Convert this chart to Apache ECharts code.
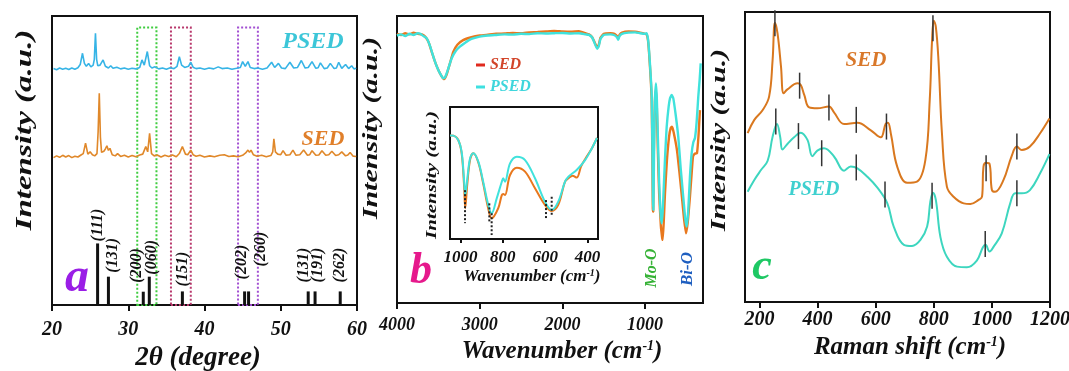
<!DOCTYPE html>
<html>
<head>
<meta charset="utf-8">
<style>
  html, body { margin: 0; padding: 0; background: #fff; }
  #chart { width: 1069px; height: 371px; }
</style>
<script src="https://cdn.jsdelivr.net/npm/echarts@6/dist/echarts.min.js"></script>
</head>
<body>
<div id="chart"></div>
<script>
// ---------- (a) XRD patterns, 2θ in degrees vs intensity (a.u.) ----------
const xrdPsed = [
  [20.2, 81.8], [20.6, 81.4], [21.0, 82.0], [21.4, 81.6], [21.8, 81.9], [22.2, 81.5], [22.6, 82.0], [23.0, 81.6],
  [23.4, 82.1], [23.7, 83.2], [24.0, 87.1], [24.25, 83.6], [24.5, 82.6], [24.8, 83.6], [25.1, 82.4], [25.4, 83.0],
  [25.55, 85.0], [25.7, 94.0], [25.85, 85.0], [26.0, 82.8], [26.3, 83.0], [26.7, 84.8], [27.0, 82.6], [27.4, 82.0],
  [27.7, 82.8], [28.0, 81.9], [28.5, 82.3], [29.0, 81.7], [29.5, 82.0], [30.0, 81.6], [30.5, 81.9], [31.0, 81.7],
  [31.5, 82.2], [31.8, 84.8], [32.1, 83.0], [32.5, 87.7], [32.8, 82.8], [33.1, 82.0], [33.5, 82.4], [34.0, 81.7],
  [34.5, 82.0], [35.0, 81.6], [35.5, 82.1], [36.0, 81.8], [36.4, 82.6], [36.7, 85.9], [37.0, 83.0], [37.4, 82.2],
  [37.9, 82.6], [38.2, 84.0], [38.5, 82.3], [38.9, 81.8], [39.4, 82.0], [40.0, 81.6], [40.6, 82.0], [41.2, 81.7],
  [41.8, 82.4], [42.3, 81.8], [43.0, 82.0], [43.6, 81.6], [44.2, 81.9], [44.7, 82.2], [45.0, 84.2], [45.35, 82.6],
  [45.7, 84.2], [46.0, 82.2], [46.5, 81.8], [47.0, 82.0], [47.6, 81.6], [48.2, 82.0], [48.8, 84.0], [49.2, 82.2],
  [49.7, 83.6], [50.1, 82.0], [50.6, 81.8], [51.2, 84.0], [51.7, 82.0], [52.2, 82.2], [52.7, 84.6], [53.2, 82.0],
  [53.6, 82.2], [54.1, 84.2], [54.6, 81.9], [54.9, 82.1], [55.2, 83.8], [55.7, 81.8], [56.1, 82.0], [56.5, 83.6],
  [57.0, 81.8], [57.3, 82.0], [57.6, 84.0], [58.0, 81.9], [58.5, 83.2], [58.9, 81.8], [59.3, 82.8], [59.6, 81.7],
  [59.9, 81.9]
];
const xrdSed = [
  [20.2, 51.0], [20.6, 51.6], [21.0, 51.1], [21.4, 51.8], [21.8, 51.2], [22.2, 51.7], [22.6, 51.0], [23.0, 51.5],
  [23.4, 51.2], [23.8, 51.9], [24.1, 52.4], [24.4, 56.0], [24.7, 52.2], [25.0, 53.0], [25.3, 52.0], [25.6, 51.6],
  [25.9, 52.4], [26.05, 60.0], [26.2, 73.3], [26.35, 58.0], [26.5, 52.8], [26.8, 53.2], [27.0, 54.0], [27.2, 55.1],
  [27.4, 53.5], [27.6, 54.2], [27.9, 52.0], [28.3, 51.6], [28.6, 52.4], [29.0, 51.4], [29.5, 51.8], [30.0, 51.2],
  [30.5, 51.7], [31.0, 51.3], [31.5, 51.9], [31.9, 52.2], [32.3, 54.8], [32.55, 53.0], [32.8, 59.4], [33.05, 52.4],
  [33.4, 51.6], [33.8, 51.9], [34.3, 51.2], [34.8, 51.8], [35.3, 51.4], [35.8, 51.9], [36.3, 51.3], [36.7, 52.4],
  [37.1, 54.8], [37.5, 52.2], [37.8, 52.0], [38.2, 53.6], [38.5, 52.0], [38.9, 51.5], [39.4, 51.8], [40.0, 51.2],
  [40.7, 51.6], [41.3, 51.3], [42.0, 51.8], [42.6, 52.0], [43.2, 51.4], [43.8, 51.6], [44.4, 51.3], [45.0, 51.8],
  [45.4, 52.6], [45.7, 53.6], [45.9, 52.8], [46.1, 53.6], [46.4, 52.0], [46.9, 51.5], [47.5, 51.8], [48.1, 51.3],
  [48.7, 51.7], [48.95, 53.0], [49.1, 57.5], [49.3, 53.0], [49.6, 52.2], [50.0, 52.0], [50.3, 53.4], [50.7, 51.8],
  [51.2, 52.0], [51.6, 53.6], [52.0, 51.8], [52.5, 52.0], [53.0, 53.6], [53.5, 51.8], [53.8, 52.0], [54.1, 53.4],
  [54.6, 51.8], [55.0, 51.9], [55.4, 53.4], [55.9, 51.8], [56.3, 52.0], [56.7, 53.2], [57.2, 51.7], [57.6, 52.0],
  [58.0, 53.0], [58.5, 51.6], [58.8, 51.9], [59.1, 52.8], [59.5, 51.5], [59.9, 51.4]
];
// reference pattern: peak positions, relative heights and Miller indices
const refPos = [25.98, 27.4, 31.97, 32.76, 37.1, 45.26, 45.78, 53.6, 54.5, 57.8];
const refHeight = [21.3, 9.8, 4.6, 9.8, 4.7, 4.7, 4.7, 4.7, 4.7, 4.7];
const refHkl = ['(111)', '(131)', '(200)', '(060)', '(151)', '(202)', '(260)', '(131)', '(191)', '(262)'];
// highlighted 2θ windows and their common upper edge
const windowRanges = [[31.18, 33.7], [35.6, 38.2], [44.4, 47.0]];
const windowTop = 96;

// ---------- (b) FT-IR spectra, wavenumber (cm-1) vs transmittance (a.u.) ----------
const irSed = [
  [4000, 93.8], [3950, 93.4], [3900, 94.0], [3850, 93.6], [3800, 94.2], [3750, 93.8], [3700, 93.6], [3660, 92.8],
  [3620, 91.0], [3580, 87.5], [3540, 84.0], [3500, 81.2], [3460, 79.0], [3430, 78.0], [3400, 79.6], [3360, 83.5],
  [3320, 87.5], [3270, 90.0], [3200, 91.6], [3100, 92.6], [3000, 93.2], [2900, 93.5], [2800, 93.8], [2700, 93.9],
  [2600, 94.1], [2500, 94.0], [2400, 94.3], [2300, 94.4], [2200, 94.6], [2100, 94.8], [2000, 94.6], [1900, 94.5],
  [1800, 94.7], [1720, 94.0], [1680, 93.6], [1640, 92.6], [1610, 90.8], [1580, 89.0], [1560, 90.0], [1540, 92.4],
  [1500, 93.8], [1420, 94.0], [1370, 93.8], [1340, 93.0], [1325, 92.2], [1310, 93.4], [1280, 94.2], [1200, 94.6],
  [1120, 94.5], [1060, 94.2], [1000, 93.8], [981, 93.6], [965, 91.5], [953, 87.5], [935, 79.5], [921, 71.0],
  [912, 50.0], [907, 33.0], [902, 31.8], [895, 52.0], [882, 70.0], [869, 74.2], [858, 68.0], [845, 52.0],
  [830, 38.0], [810, 27.0], [795, 23.0], [788, 22.0], [775, 28.0], [760, 38.0], [736, 49.8], [710, 58.0],
  [690, 61.0], [675, 61.4], [655, 59.5], [615, 53.3], [585, 45.5], [555, 37.0], [530, 29.5], [506, 24.3],
  [485, 28.0], [458, 37.0], [440, 44.0], [421, 51.0], [400, 52.0], [373, 52.2], [355, 58.0], [337, 67.2]
];
const irPsed = [
  [4000, 93.2], [3950, 93.6], [3900, 93.0], [3850, 93.8], [3800, 93.4], [3750, 94.0], [3720, 93.8], [3680, 93.0],
  [3640, 92.2], [3600, 89.5], [3560, 85.8], [3520, 82.5], [3480, 80.0], [3440, 78.3], [3420, 78.6], [3390, 80.8],
  [3340, 85.2], [3290, 87.8], [3240, 89.3], [3180, 90.6], [3100, 92.0], [3000, 92.8], [2900, 93.2], [2800, 93.4],
  [2700, 93.6], [2600, 93.5], [2500, 93.8], [2400, 93.7], [2300, 94.0], [2200, 93.9], [2100, 94.0], [2000, 94.1],
  [1900, 93.9], [1800, 94.0], [1720, 93.6], [1680, 93.4], [1640, 92.5], [1610, 90.5], [1580, 88.6], [1560, 89.5],
  [1540, 92.0], [1500, 93.4], [1420, 93.6], [1370, 93.3], [1340, 92.6], [1325, 91.7], [1310, 93.0], [1280, 93.8],
  [1200, 94.2], [1120, 94.3], [1060, 94.0], [1000, 93.8], [981, 94.0], [965, 92.0], [953, 88.2], [935, 80.5],
  [921, 73.1], [912, 55.0], [905, 36.0], [900, 32.4], [893, 50.0], [882, 70.0], [869, 76.5], [858, 71.0],
  [845, 57.0], [830, 42.0], [815, 32.0], [800, 27.8], [787, 32.0], [772, 42.0], [755, 53.0], [739, 61.4],
  [715, 68.5], [699, 71.3], [679, 72.5], [659, 71.3], [630, 65.5], [599, 57.9], [570, 47.0], [539, 37.0],
  [515, 29.5], [497, 26.6], [478, 32.4], [458, 44.0], [437, 52.2], [417, 56.0], [397, 57.5], [377, 63.0],
  [357, 71.9], [340, 78.0], [328, 83.5]
];
// inset: 1050-350 cm-1 region
const irInsetSed = [
  [1050, 78.5], [1034, 78.3], [1011, 75.0], [995, 65.0], [984, 42.0], [978, 23.3], [968, 42.0], [955, 60.0],
  [940, 64.9], [916, 58.0], [893, 42.0], [869, 23.0], [853, 15.7], [822, 23.3], [805, 33.3], [798, 34.0],
  [790, 33.3], [766, 48.5], [734, 54.0], [695, 51.0], [648, 38.4], [601, 25.8], [569, 21.2], [538, 25.8],
  [506, 43.4], [490, 46.0], [470, 48.0], [451, 46.5], [430, 55.0], [411, 60.5], [378, 69.0], [355, 76.5]
];
const irInsetPsed = [
  [1050, 78.5], [1034, 78.3], [1011, 75.0], [995, 66.1], [984, 46.0], [978, 33.3], [968, 46.0], [955, 61.1],
  [940, 64.9], [916, 58.6], [893, 43.4], [869, 25.8], [853, 19.5], [829, 30.8], [805, 43.4], [798, 46.0],
  [790, 43.4], [766, 57.3], [734, 62.3], [695, 59.8], [648, 46.0], [601, 28.3], [569, 22.0], [538, 28.3],
  [506, 43.4], [490, 47.2], [451, 52.3], [411, 59.8], [378, 69.0], [355, 76.5]
];
// band minima marked in the inset: [wavenumber, upper end, lower end]
const insetBandMarks = [[979, 37.0, 12.0], [864, 27.0, 12.0], [853, 19.5, 3.0], [596, 29.5, 14.4], [569, 32.0, 16.9]];

// ---------- (c) Raman spectra ----------
const ramanShiftSed = [159, 182, 211, 233, 245, 253, 262, 274, 283, 296, 331, 342, 354, 371, 399, 439, 457, 491, 537,
  582, 617, 634, 642, 653, 674, 708, 742, 771, 786, 794, 800, 807, 816, 828, 845, 868, 903, 926, 954, 966, 971, 980,
  992, 1000, 1011, 1040, 1068, 1086, 1103, 1131, 1166, 1198];
const ramanSed = [58.2, 62.8, 66.2, 70.8, 83.4, 96.3, 92.6, 81.1, 72.0, 73.3, 75.4, 74.8, 71.4, 67.1, 66.8, 67.4, 65.3,
  61.4, 61.8, 59.3, 56.8, 61.4, 61.8, 57.6, 46.7, 41.1, 41.5, 49.0, 69.7, 90.3, 97.0, 94.9, 83.4, 58.2, 39.8, 36.3,
  34.0, 33.8, 35.2, 36.3, 46.7, 48.0, 47.6, 38.6, 38.0, 42.1, 50.3, 53.6, 52.4, 53.6, 58.2, 63.3];
const ramanShiftPsed = [159, 182, 205, 228, 245, 260, 271, 279, 296, 319, 342, 365, 382, 399, 422, 457, 491, 514, 537,
  571, 605, 640, 662, 697, 725, 754, 777, 788, 797, 807, 823, 845, 880, 914, 948, 969, 978, 992, 1006, 1034, 1063,
  1080, 1103, 1131, 1166, 1198];
const ramanPsed = [38.0, 42.1, 45.5, 48.7, 57.0, 61.4, 57.0, 52.6, 54.5, 56.8, 58.4, 55.9, 50.3, 52.2, 53.0, 50.1,
  45.3, 46.7, 46.1, 43.2, 39.5, 34.0, 26.0, 19.7, 19.3, 21.4, 26.0, 34.6, 37.7, 35.2, 22.3, 15.6, 12.2, 12.0, 14.3,
  18.9, 19.7, 17.4, 19.1, 23.7, 34.0, 37.5, 37.5, 38.6, 44.4, 51.0];
// assigned Raman bands: position and the intensity where the marker sits
const sedBandPos = [253, 338, 439, 533, 637, 797, 980, 1086];
const sedBandLevel = [96.1, 74.6, 67.1, 62.8, 60.5, 94.4, 46.1, 53.6];
const psedBandPos = [256, 334, 414, 533, 632, 794, 977, 1086];
const psedBandLevel = [62.2, 57.2, 51.3, 46.4, 37.1, 36.6, 20.0, 37.5];

// axis tick labels
const xrdTicks = [20, 30, 40, 50, 60];
const irTicks = [4000, 3000, 2000, 1000];
const irInsetTicks = [1000, 800, 600, 400];
const ramanTicks = [200, 400, 600, 800, 1000, 1200];

// ---------- styling ----------
const SERIF = 'Liberation Serif';
const INK = '#111';
const C = {
  xrdPsed: '#36b4e6', xrdSed: '#e0882a',
  irSed: '#e8781e', irPsed: '#40e2dc',
  ramanSed: '#d9781f', ramanPsed: '#3dd6bf'
};
const windowColors = ['#3fcc3f', '#b8386c', '#a24fd2'];
// label nudges for the Miller indices: [dx px, lift above stick px]
const hklNudge = [[0, 2], [4, 4], [-6, 9], [3, 2], [0, 5], [-3, 12], [12, 25], [-4, 9], [3, 9], [0, 9]];

const zip = (xs, ys) => xs.map((x, i) => [x, ys[i]]);
const plain = (v) => String(v);

function boldItalic(size, color) {
  return { fontFamily: SERIF, fontWeight: 'bold', fontStyle: 'italic', fontSize: size, color: color || INK };
}
function xAxisBase(grid, extra) {
  return Object.assign({
    gridIndex: grid, type: 'value',
    axisLine: { show: true, onZero: false, lineStyle: { color: INK, width: 2 } },
    axisTick: { show: true, inside: false, length: 6, lineStyle: { color: INK, width: 2 } },
    splitLine: { show: false },
    nameLocation: 'middle'
  }, extra);
}
function yAxisBase(grid) {
  return { gridIndex: grid, type: 'value', min: 0, max: 100, show: false };
}
function gridBox(left, top, width, height) {
  return { left, top, width, height, show: true, borderColor: INK, borderWidth: 2,
    backgroundColor: 'transparent', containLabel: false, outerBoundsMode: 'none' };
}
function lineSeries(name, data, xi, color, width, z, smooth) {
  return { name, type: 'line', xAxisIndex: xi, yAxisIndex: xi, data, symbol: 'none', showSymbol: false,
    smooth: smooth || false, z: z || 2, lineStyle: { color, width }, itemStyle: { color }, emphasis: { disabled: true } };
}
function text(str, x, y, size, color, opt) {
  return Object.assign({
    type: 'text', x, y, z: 50,
    style: { text: str, x: 0, y: 0, fill: color, fontFamily: SERIF, fontWeight: 'bold', fontStyle: 'italic',
      fontSize: size, align: 'center', verticalAlign: 'middle' }
  }, opt ? { rotation: opt.rotation || 0, scaleX: opt.scaleX || 1, scaleY: opt.scaleY || 1 } : {});
}
const VERT = Math.PI / 2;

const supRich = (size) => ({
  sup: { fontFamily: SERIF, fontWeight: 'bold', fontStyle: 'italic', fontSize: size, verticalAlign: 'top',
    padding: [0, 0, Math.round(size * 0.6), 0], color: INK }
});

const option = {
  animation: false,
  backgroundColor: '#fff',
  textStyle: { fontFamily: SERIF },
  grid: [
    gridBox(52, 16, 305, 289),   // (a)
    gridBox(397, 16, 306, 287),  // (b)
    gridBox(450, 107, 148, 132), // (b) inset
    gridBox(745, 12, 305, 290)   // (c)
  ],
  legend: {
    orient: 'vertical', left: 476, top: 57, padding: 0, itemWidth: 9, itemHeight: 3, itemGap: 6,
    icon: 'rect', selectedMode: false,
    textStyle: boldItalic(16),
    data: [
      { name: 'SED', itemStyle: { color: '#e02a1e' }, textStyle: boldItalic(16, '#d2452a') },
      { name: 'PSED', itemStyle: { color: '#3fe0e0' }, textStyle: boldItalic(16, '#3fd6dc') }
    ]
  },
  xAxis: [
    xAxisBase(0, {
      min: 20, max: 60, interval: 10,
      axisLabel: Object.assign(boldItalic(20), { margin: 15, showMinLabel: true, showMaxLabel: true, customValues: xrdTicks, formatter: plain }),
      axisTick: { show: true, inside: false, length: 6, customValues: xrdTicks, lineStyle: { color: INK, width: 2 } },
      name: '2θ (degree)', nameGap: 35,
      nameTextStyle: Object.assign(boldItalic(27), { padding: [0, 13, 0, 0] })
    }),
    xAxisBase(1, {
      min: 300, max: 4000, inverse: true,
      axisTick: { show: true, inside: false, length: 6, customValues: irTicks, lineStyle: { color: INK, width: 2 } },
      axisLabel: Object.assign(boldItalic(18), { margin: 13, customValues: irTicks, formatter: plain }),
      name: 'Wavenumber (cm{sup|-1})', nameGap: 33,
      nameTextStyle: Object.assign(boldItalic(25), { padding: [0, 0, 0, 24], rich: supRich(14) })
    }),
    xAxisBase(2, {
      min: 350, max: 1050, inverse: true,
      axisTick: { show: true, inside: false, length: 4, customValues: irInsetTicks, lineStyle: { color: INK, width: 2 } },
      axisLabel: Object.assign(boldItalic(17), { margin: 10, customValues: irInsetTicks, formatter: plain }),
      name: 'Wavenumber (cm{sup|-1})', nameGap: 29,
      nameTextStyle: Object.assign(boldItalic(17), { padding: [0, 0, 0, 16], rich: supRich(10) })
    }),
    xAxisBase(3, {
      min: 150, max: 1200,
      axisTick: { show: true, inside: false, length: 6, customValues: ramanTicks, lineStyle: { color: INK, width: 2 } },
      axisLabel: Object.assign(boldItalic(20), { margin: 8, customValues: ramanTicks, formatter: plain }),
      name: 'Raman shift (cm{sup|-1})', nameGap: 33,
      nameTextStyle: Object.assign(boldItalic(25), { padding: [0, 0, 0, 25], rich: supRich(14) })
    })
  ],
  yAxis: [yAxisBase(0), yAxisBase(1), yAxisBase(2), yAxisBase(3)],
  series: [
    // (a) patterns
    Object.assign(lineSeries('PSED', xrdPsed, 0, C.xrdPsed, 1.6), {
      markArea: {
        silent: true,
        data: windowRanges.map((r, i) => [
          { xAxis: r[0], yAxis: 0, itemStyle: { color: 'rgba(0,0,0,0)', borderColor: windowColors[i], borderWidth: 2, borderType: [2, 2] } },
          { xAxis: r[1], yAxis: windowTop }
        ]),
        label: { show: false }
      }
    }),
    lineSeries('SED', xrdSed, 0, C.xrdSed, 1.6),
    {
      type: 'custom', name: 'reference', xAxisIndex: 0, yAxisIndex: 0, clip: false, z: 5,
      data: zip(refPos, refHeight),
      renderItem: (params, api) => {
        const x = api.value(0), h = api.value(1);
        const top = api.coord([x, h]);
        const bot = api.coord([x, 0]);
        const n = hklNudge[params.dataIndex];
        return {
          type: 'group',
          children: [
            { type: 'line', shape: { x1: top[0], y1: bot[1], x2: top[0], y2: top[1] },
              style: { stroke: INK, lineWidth: 3 } },
            { type: 'text', x: top[0] + n[0], y: top[1] - n[1], rotation: VERT,
              style: { text: refHkl[params.dataIndex], x: 0, y: 0, fill: INK, fontFamily: SERIF,
                fontWeight: 'bold', fontStyle: 'italic', fontSize: 16, align: 'left', verticalAlign: 'middle' } }
          ]
        };
      }
    },
    // (b) FT-IR
    lineSeries('SED', irSed, 1, C.irSed, 2.4, 2, 0.15),
    lineSeries('PSED', irPsed, 1, C.irPsed, 2.4, 3, 0.15),
    lineSeries('SED', irInsetSed, 2, C.irSed, 2, 4, 0.35),
    lineSeries('PSED', irInsetPsed, 2, C.irPsed, 2, 5, 0.35),
    {
      type: 'custom', name: 'band minima', xAxisIndex: 2, yAxisIndex: 2, z: 6,
      data: insetBandMarks,
      renderItem: (params, api) => {
        const a = api.coord([api.value(0), api.value(1)]);
        const b = api.coord([api.value(0), api.value(2)]);
        return { type: 'line', shape: { x1: a[0], y1: a[1], x2: b[0], y2: b[1] },
          style: { stroke: '#222', lineWidth: 2, lineDash: [2, 2] } };
      }
    },
    // (c) Raman
    lineSeries('SED', zip(ramanShiftSed, ramanSed), 3, C.ramanSed, 2, 2, 0.4),
    lineSeries('PSED', zip(ramanShiftPsed, ramanPsed), 3, C.ramanPsed, 2, 2, 0.4),
    {
      type: 'custom', name: 'bands', xAxisIndex: 3, yAxisIndex: 3, z: 6, clip: false,
      data: zip(sedBandPos, sedBandLevel).concat(zip(psedBandPos, psedBandLevel)),
      renderItem: (params, api) => {
        const p = api.coord([api.value(0), api.value(1)]);
        return { type: 'line', shape: { x1: p[0], y1: p[1] - 13, x2: p[0], y2: p[1] + 13 },
          style: { stroke: '#333', lineWidth: 1.5 } };
      }
    }
  ],
  graphic: [
    // vertical axis titles
    text('Intensity (a.u.)', 25, 130, 33, INK, { rotation: VERT, scaleY: 0.68 }),
    text('Intensity (a.u.)', 372, 128, 30, INK, { rotation: VERT, scaleY: 0.68 }),
    text('Intensity (a.u.)', 432, 175, 21, INK, { rotation: VERT, scaleY: 0.72 }),
    text('Intensity (a.u.)', 720, 140, 30, INK, { rotation: VERT, scaleY: 0.68 }),
    // panel letters
    text('a', 77, 279, 48, '#9a1ee6'),
    text('b', 421, 272, 44, '#e6198c'),
    text('c', 762, 268, 44, '#1ec864'),
    // sample tags
    text('PSED', 313, 42, 24, '#3cc6d8'),
    text('SED', 323, 139, 22, '#e07f2a'),
    text('SED', 866, 61, 21, '#d9782a'),
    text('PSED', 814, 190, 20, '#3fd0cf'),
    // FT-IR band assignments
    text('Mo-O', 652, 268, 16, '#36b236', { rotation: VERT }),
    text('Bi-O', 688, 269, 17, '#1f5fc0', { rotation: VERT })
  ]
};

const chart = echarts.init(document.getElementById('chart'), null, { renderer: 'canvas' });
chart.setOption(option);
</script>
</body>
</html>
